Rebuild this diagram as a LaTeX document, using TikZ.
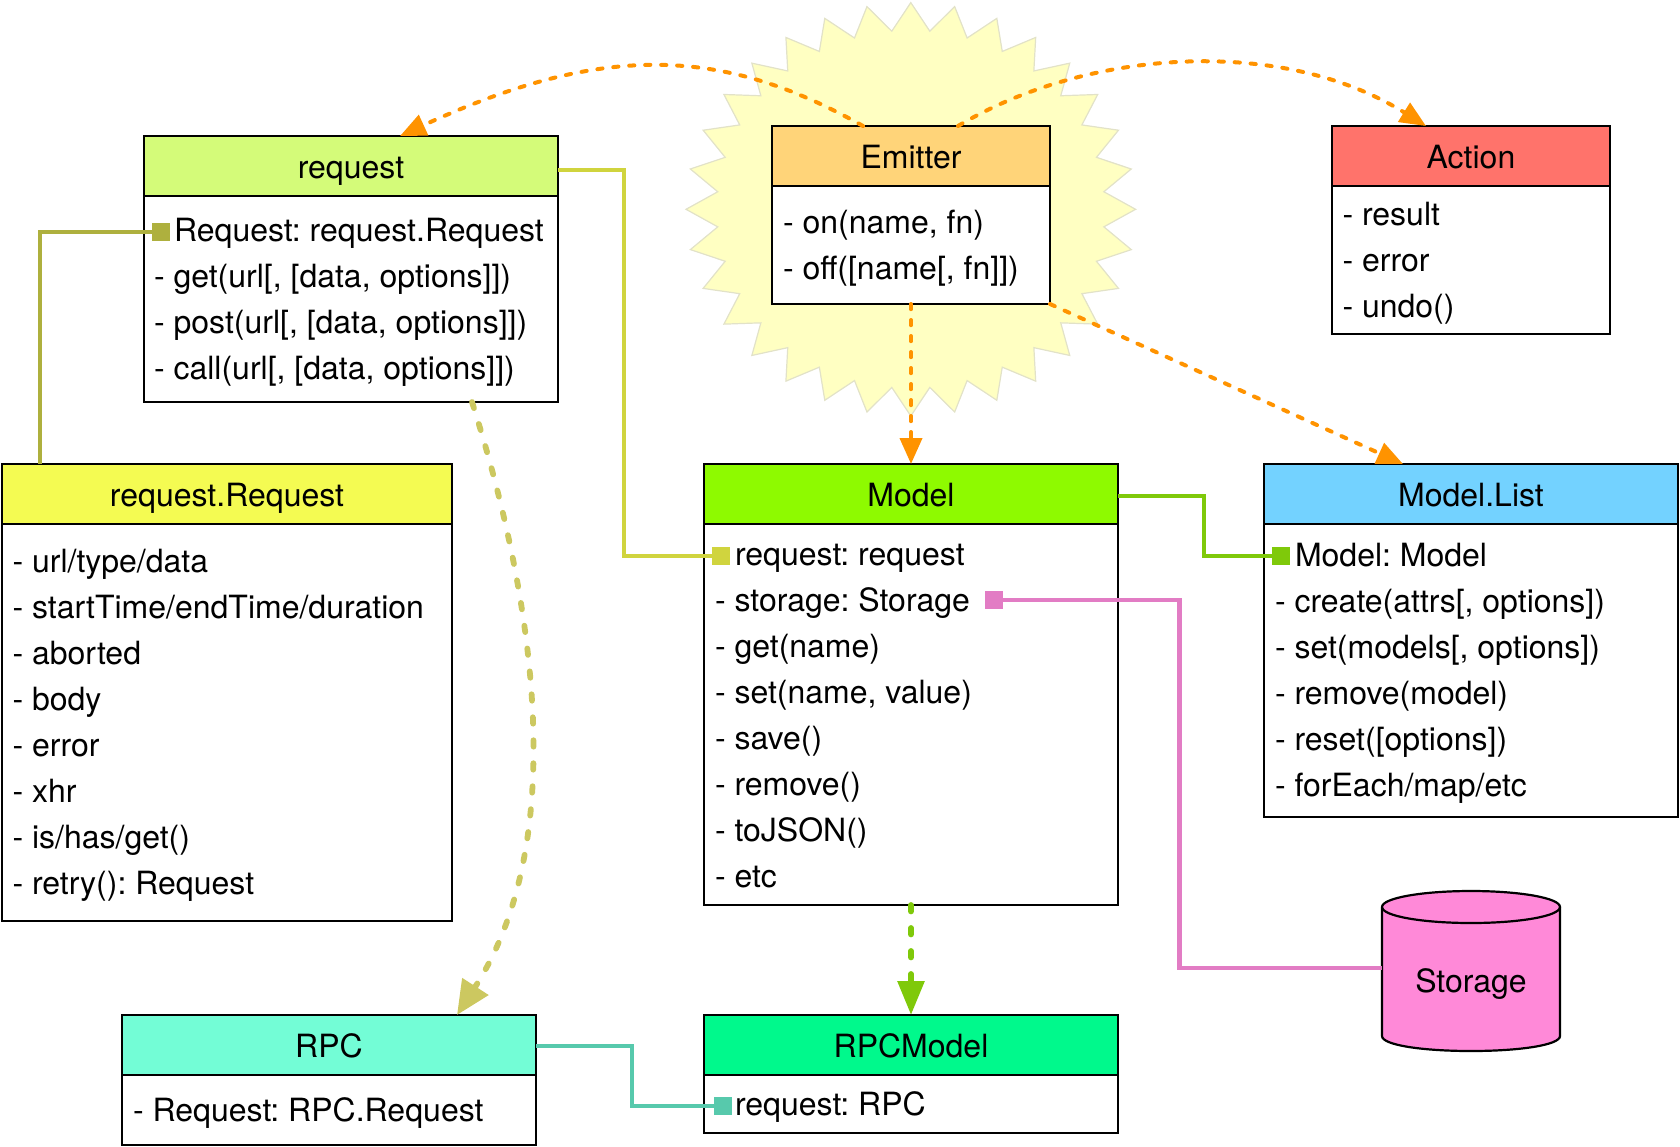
\documentclass[tikz,border=0pt]{standalone}
\usepackage{fontspec}
\setmainfont{TeX Gyre Heros}
\usetikzlibrary{arrows.meta}
\definecolor{cburst}{HTML}{FFFFC2}
\definecolor{cburstline}{HTML}{E2E2C8}
\definecolor{corange}{HTML}{FF9300}
\definecolor{colive}{HTML}{CCC860}
\definecolor{cgreen}{HTML}{7FC90A}
\definecolor{cmoss}{HTML}{AEB03E}
\definecolor{cyell}{HTML}{D0D43E}
\definecolor{cpink}{HTML}{E27CC4}
\definecolor{cteal}{HTML}{57C9AC}
\definecolor{cstorage}{HTML}{FF89D8}
\tikzset{
  headbox/.style={draw=black,line width=1.1pt,inner sep=0pt,outer sep=0pt,anchor=north west,text height=15pt,text depth=3pt},
  bodybox/.style={draw=black,line width=1.1pt,fill=white,inner sep=0pt,outer sep=0pt,anchor=north west},
  rowtext/.style={anchor=base west,inner sep=0pt,outer sep=0pt},
  sqmark/.style={minimum size=9pt,inner sep=0pt,outer sep=0pt},
  link/.style={line width=2.1pt},
  evt/.style={draw=corange,line width=2pt,dash pattern=on 2.6pt off 5.4pt,line cap=round,
    -{Triangle[length=13pt,width=11pt,fill=corange]}},
  fat/.style={line width=2.9pt,dash pattern=on 3.2pt off 8.3pt,line cap=round},
  burstline/.style={draw=cburstline,line width=0.6pt,fill=cburst,line join=miter},
  drum/.style={draw=black,line width=1.1pt,fill=cstorage},
}
\newcommand{\umlbox}[7]{%
  \definecolor{cur#1}{HTML}{#6}%
  \node[headbox,fill=cur#1,minimum width={(#3-#2)*0.5pt},minimum height={30pt}] (#1head) at (#2,#4) {#7};
  \node[bodybox,minimum width={(#3-#2)*0.5pt},minimum height={(#5-#4-60)*0.5pt}] (#1body) at (#2,#4+60) {};
}
\newcommand{\rowtxt}[4]{\node[rowtext] (#1) at (#2,#3) {#4};}
\begin{document}
\frenchspacing
\begin{tikzpicture}[x=0.5pt,y=-0.5pt,font=\fontsize{16}{20}\selectfont,
  declare function={brad(\k,\p,\q)=(mod(\k,2)==0)*\p+(mod(\k,2)==1)*\q;}]
\useasboundingbox (0,0) rectangle (1680,1146);
% burst
\draw[burstline] plot[samples at={0,1,...,63},variable=\k]
  ({910.8+brad(\k,224.8,194)*cos(\k*5.625)},{209.3+brad(\k,206.7,179)*sin(\k*5.625)}) -- cycle;
% boxes
\umlbox{req}{144}{558}{136}{402}{D4FB79}{request}
\umlbox{em}{772}{1050}{126}{304}{FFD479}{Emitter}
\umlbox{act}{1332}{1610}{126}{334}{FF736B}{Action}
\umlbox{rr}{2}{452}{464}{921}{F4FB52}{request.Request}
\umlbox{mod}{704}{1118}{464}{905}{8EFA00}{Model}
\umlbox{ml}{1264}{1678}{464}{817}{73D2FF}{Model.List}
\umlbox{rpc}{122}{536}{1015}{1145}{73FDD6}{RPC}
\umlbox{rpm}{704}{1118}{1015}{1133}{00F98C}{RPCModel}
% rows
\rowtxt{r1}{174}{241}{Request: request.Request}
\rowtxt{r2}{154}{287}{- get(url[, [data, options]])}
\rowtxt{r3}{154}{333}{- post(url[, [data, options]])}
\rowtxt{r4}{154}{379}{- call(url[, [data, options]])}
\rowtxt{e1}{783}{233}{- on(name, fn)}
\rowtxt{e2}{783}{279}{- off([name[, fn]])}
\rowtxt{a1}{1342.5}{225}{- result}
\rowtxt{a2}{1342.5}{271}{- error}
\rowtxt{a3}{1342.5}{317}{- undo()}
\rowtxt{q1}{12.5}{572.5}{- url/type/data}
\rowtxt{q2}{12.5}{618.5}{- startTime/endTime/duration}
\rowtxt{q3}{12.5}{664.5}{- aborted}
\rowtxt{q4}{12.5}{710.5}{- body}
\rowtxt{q5}{12.5}{756.5}{- error}
\rowtxt{q6}{12.5}{802.5}{- xhr}
\rowtxt{q7}{12.5}{848.5}{- is/has/get()}
\rowtxt{q8}{12.5}{894.5}{- retry(): Request}
\rowtxt{m1}{735}{565.5}{request: request}
\rowtxt{m2}{715}{611.5}{- storage: Storage}
\rowtxt{m3}{715}{657.5}{- get(name)}
\rowtxt{m4}{715}{703.5}{- set(name, value)}
\rowtxt{m5}{715}{749.5}{- save()}
\rowtxt{m6}{715}{795.5}{- remove()}
\rowtxt{m7}{715}{841.5}{- toJSON()}
\rowtxt{m8}{715}{887.5}{- etc}
\rowtxt{l1}{1295}{566.5}{Model: Model}
\rowtxt{l2}{1275}{612.5}{- create(attrs[, options])}
\rowtxt{l3}{1275}{658.5}{- set(models[, options])}
\rowtxt{l4}{1275}{704.5}{- remove(model)}
\rowtxt{l5}{1275}{750.5}{- reset([options])}
\rowtxt{l6}{1275}{796.5}{- forEach/map/etc}
\rowtxt{p1}{133}{1121.5}{- Request: RPC.Request}
\rowtxt{s1}{735}{1115}{request: RPC}
% storage
\path[drum] (1382,907) -- (1382,1036) .. controls (1382,1045) and (1422,1051) .. (1471,1051)
  .. controls (1520,1051) and (1560,1045) .. (1560,1036) -- (1560,907)
  .. controls (1560,898) and (1520,891) .. (1471,891) .. controls (1422,891) and (1382,898) .. (1382,907) -- cycle;
\path[draw=black,line width=1.1pt] (1382,907) .. controls (1382,916) and (1422,923) .. (1471,923)
  .. controls (1520,923) and (1560,916) .. (1560,907);
\node[minimum width=89pt,inner sep=0pt,outer sep=0pt,text height=27pt,text depth=3pt] (storage) at (1471,968) {Storage};
% markers
\node[sqmark,fill=cmoss] (sqreq) at (160.5,232) {};
\node[sqmark,fill=cyell] (sqmod) at (720.5,556) {};
\node[sqmark,fill=cpink] (sqsto) at (993.5,600) {};
\node[sqmark,fill=cgreen] (sqml) at (1281,556) {};
\node[sqmark,fill=cteal] (sqrpc) at (723,1106) {};
% solid connectors
\draw[link,cmoss] (sqreq.west) -| ([xshift=19pt]rrhead.north west);
\draw[link,cyell] ([yshift=-2pt]reqhead.east) -- ++(66,0) |- (sqmod.west);
\draw[link,cgreen] ([yshift=-1pt]modhead.east) -- ++(86,0) |- (sqml.west);
\draw[link,cpink] (sqsto.east) -- ++(177,0) |- (storage.west);
\draw[link,cteal] ([yshift=-0.5pt]rpchead.east) -- ++(96,0) |- (sqrpc.west);
% emitter events
\draw[evt] ([xshift=-24pt]emhead.north) .. controls (720,45) and (600,44) .. ([xshift=24.5pt]reqhead.north);
\draw[evt] ([xshift=23.5pt]emhead.north) .. controls (1085,50) and (1280,35) .. ([xshift=-22.5pt]acthead.north);
\draw[evt] (embody.south) -- (modhead.north);
\draw[evt] (embody.south east) -- ([xshift=-34pt]mlhead.north);
% thick dashed
\draw[fat,colive,-{Triangle[length=17pt,width=15pt,fill=colive]}] ([xshift=60.5pt]reqbody.south) .. controls (535,600) and (570,840) .. ([xshift=64pt]rpchead.north);
\draw[fat,cgreen,-{Triangle[length=17pt,width=13pt,fill=cgreen]}] (modbody.south) -- (rpmhead.north);
\end{tikzpicture}
\end{document}
